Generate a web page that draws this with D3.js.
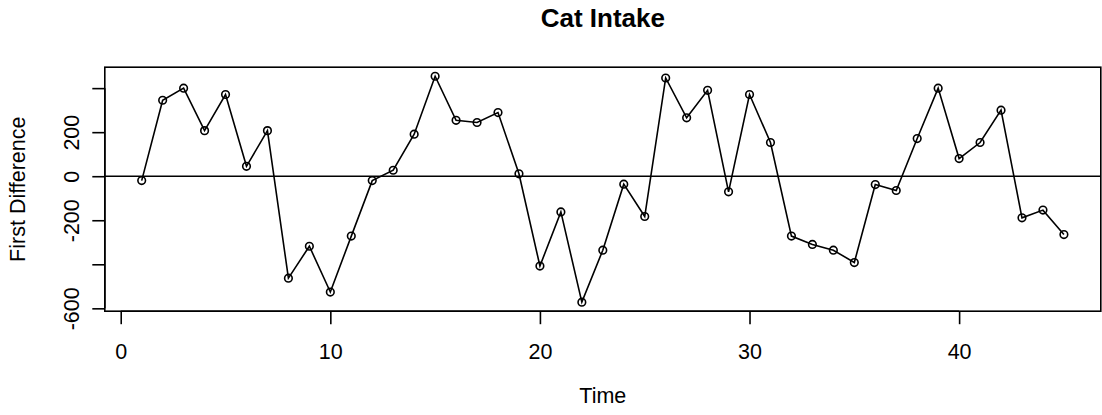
<!DOCTYPE html>
<html>
<head>
<meta charset="utf-8">
<script src="https://cdn.jsdelivr.net/npm/d3@7"></script>
<style>
  html, body { margin: 0; padding: 0; background: #ffffff; }
  svg { display: block; }
  text { font-family: "Liberation Sans", Arial, Helvetica, sans-serif; fill: #000; }
</style>
</head>
<body>
<div id="chart"></div>
<script>
// First differences of cat intake over time
const timeIndex = d3.range(1, 46);
const firstDifference = [
  -20, 345, 400, 207, 371, 45, 207, -463, -318, -526,
  -272, -20, 27, 191, 454, 254, 244, 289, 11, -408,
  -162, -572, -336, -36, -183, 446, 265, 390, -71, 371,
  153, -272, -310, -336, -392, -38, -65, 171, 400, 80,
  153, 300, -189, -154, -265
];
const xTicks = [0, 10, 20, 30, 40];
const yTicks = [-600, -400, -200, 0, 200, 400];
const yTickLabels = ["-600", "", "-200", "0", "200", ""];
const titleText = "Cat Intake";
const xLabel = "Time";
const yLabel = "First Difference";

const W = 1102, H = 415;
const box = { left: 104.8, right: 1100.8, top: 67.2, bottom: 311.2 };

const svg = d3.select("#chart").append("svg")
  .attr("width", W).attr("height", H);

// 4% padding on both axes, as in base graphics
const xExt = d3.extent(timeIndex), yExt = d3.extent(firstDifference);
const xPad = 0.04 * (xExt[1] - xExt[0]);
const yPad = 0.04 * (yExt[1] - yExt[0]);

const x = d3.scaleLinear()
  .domain([xExt[0] - xPad, xExt[1] + xPad])
  .range([box.left, box.right]);
const y = d3.scaleLinear()
  .domain([yExt[0] - yPad, yExt[1] + yPad])
  .range([box.bottom, box.top]);

const lw = 1.6;

// x axis
const xAxis = svg.append("g")
  .attr("transform", `translate(0,${box.bottom})`)
  .call(d3.axisBottom(x).tickValues(xTicks).tickSize(13).tickPadding(20)
        .tickFormat(d3.format("d")));
xAxis.select(".domain").attr("d", `M${x(xTicks[0])},0H${x(xTicks[xTicks.length - 1])}`)
  .attr("stroke", "#000").attr("stroke-width", lw);
xAxis.selectAll(".tick line").attr("stroke", "#000").attr("stroke-width", lw);
xAxis.selectAll(".tick text")
  .attr("font-size", "21.5px")
  .attr("font-family", "Liberation Sans, Arial, sans-serif")
  .attr("fill", "#000");

// y axis, labels written parallel to the axis
const yAxis = svg.append("g")
  .attr("transform", `translate(${box.left},0)`)
  .call(d3.axisLeft(y).tickValues(yTicks).tickSize(12.5)
        .tickFormat((d, i) => yTickLabels[i]));
yAxis.select(".domain").attr("d", `M0,${y(yTicks[0])}V${y(yTicks[yTicks.length - 1])}`)
  .attr("stroke", "#000").attr("stroke-width", lw);
yAxis.selectAll(".tick line").attr("stroke", "#000").attr("stroke-width", lw);
yAxis.selectAll(".tick text")
  .attr("x", null).attr("dy", null)
  .attr("text-anchor", "middle")
  .attr("transform", "translate(-26,0) rotate(-90)")
  .attr("font-size", "21.5px")
  .attr("font-family", "Liberation Sans, Arial, sans-serif")
  .attr("fill", "#000");

// plot frame
svg.append("rect")
  .attr("x", box.left).attr("y", box.top)
  .attr("width", box.right - box.left).attr("height", box.bottom - box.top)
  .attr("fill", "none").attr("stroke", "#000").attr("stroke-width", lw);

// zero reference line
svg.append("line")
  .attr("x1", box.left).attr("x2", box.right)
  .attr("y1", y(0)).attr("y2", y(0))
  .attr("stroke", "#000").attr("stroke-width", lw);

// series: line with open circles
const pts = timeIndex.map((t, i) => [t, firstDifference[i]]);
svg.append("path")
  .datum(pts)
  .attr("fill", "none").attr("stroke", "#000").attr("stroke-width", lw)
  .attr("d", d3.line().x(d => x(d[0])).y(d => y(d[1])));
svg.append("g").selectAll("circle")
  .data(pts).join("circle")
  .attr("cx", d => x(d[0])).attr("cy", d => y(d[1]))
  .attr("r", 3.8)
  .attr("fill", "none").attr("stroke", "#000").attr("stroke-width", lw);

// titles
const cx = (box.left + box.right) / 2;
svg.append("text")
  .attr("x", cx).attr("y", 27)
  .attr("text-anchor", "middle")
  .attr("font-size", "26px").attr("font-weight", "bold")
  .text(titleText);
svg.append("text")
  .attr("x", cx).attr("y", 403)
  .attr("text-anchor", "middle")
  .attr("font-size", "21.5px")
  .text(xLabel);
svg.append("text")
  .attr("transform", `translate(25,${(box.top + box.bottom) / 2}) rotate(-90)`)
  .attr("text-anchor", "middle")
  .attr("font-size", "21.5px")
  .text(yLabel);
</script>
</body>
</html>
